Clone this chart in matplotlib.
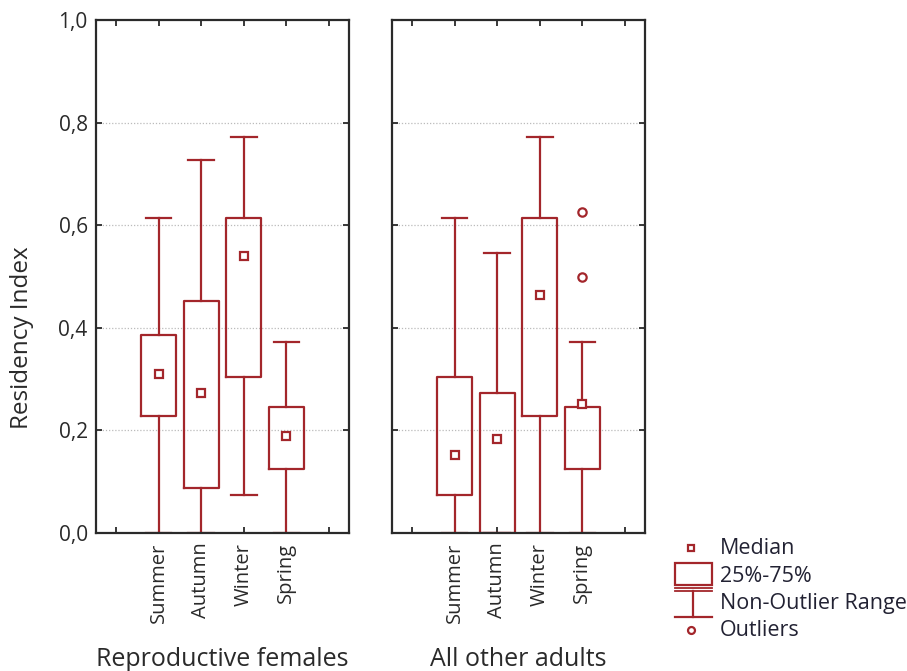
import numpy as np
import matplotlib
matplotlib.use("Agg")
import matplotlib.pyplot as plt
from matplotlib.patches import Rectangle

plt.rcParams["font.family"] = ["Open Sans", "DejaVu Sans"]

# Seasons and the two groups
seasons = ["Summer", "Autumn", "Winter", "Spring"]
groups = ["Reproductive females", "All other adults"]

# Reproductive females
rf_median = [0.309, 0.272, 0.539, 0.190]
rf_q1 = [0.229, 0.088, 0.305, 0.125]
rf_q3 = [0.385, 0.452, 0.615, 0.246]
rf_low = [0.0, 0.0, 0.075, 0.0]
rf_high = [0.615, 0.727, 0.771, 0.373]
rf_outliers = [[], [], [], []]

# All other adults
oa_median = [0.153, 0.183, 0.463, 0.251]
oa_q1 = [0.074, 0.0, 0.228, 0.124]
oa_q3 = [0.305, 0.272, 0.615, 0.246]
oa_low = [0.0, 0.0, 0.0, 0.0]
oa_high = [0.615, 0.546, 0.771, 0.373]
oa_outliers = [[], [], [], [0.626, 0.499]]

red = "#A3262B"
ink = "#2a2a2a"
positions = [2, 3, 4, 5]

fig = plt.figure(figsize=(9.07, 6.71), dpi=100)
ax1 = fig.add_axes([96 / 907, 1 - 533 / 671, 253 / 907, 513 / 671])
ax2 = fig.add_axes([392 / 907, 1 - 533 / 671, 253 / 907, 513 / 671])


def draw_panel(ax, med, q1, q3, lo, hi, out):
    stats = []
    for i in range(len(seasons)):
        stats.append({
            "med": med[i], "q1": q1[i], "q3": q3[i],
            "whislo": lo[i], "whishi": hi[i], "fliers": out[i],
        })
    ax.bxp(
        stats,
        positions=positions,
        widths=0.82,
        capwidths=0.6,
        boxprops=dict(color=red, linewidth=1.6),
        whiskerprops=dict(color=red, linewidth=1.6),
        capprops=dict(color=red, linewidth=1.6),
        medianprops=dict(visible=False),
        flierprops=dict(marker="o", markersize=6, markerfacecolor="white",
                        markeredgecolor=red, markeredgewidth=1.6),
        manage_ticks=False,
    )
    ax.plot(positions, med, "s", markersize=6, markerfacecolor="white",
            markeredgecolor=red, markeredgewidth=1.6, linestyle="none")

    ax.set_xlim(0.53, 6.47)
    ax.set_ylim(0, 1.0)
    ax.set_xticks([1, 2, 3, 4, 5, 6])
    ax.set_xticklabels([""] + seasons + [""], rotation=90, fontsize=14.5)
    ax.set_yticks([0, 0.2, 0.4, 0.6, 0.8, 1.0])
    ax.set_yticklabels(["0,0", "0,2", "0,4", "0,6", "0,8", "1,0"], fontsize=15)
    ax.tick_params(direction="in", top=True, right=True, length=4,
                   width=1.3, colors=ink)
    ax.tick_params(axis="x", pad=7)
    ax.tick_params(axis="y", pad=6)
    for y in [0.2, 0.4, 0.6, 0.8]:
        ax.axhline(y, color="#bbbbbb", linestyle=(0, (1, 1.5)),
                   linewidth=0.9, zorder=0)
    for s in ax.spines.values():
        s.set_linewidth(1.6)
        s.set_color(ink)


draw_panel(ax1, rf_median, rf_q1, rf_q3, rf_low, rf_high, rf_outliers)
draw_panel(ax2, oa_median, oa_q1, oa_q3, oa_low, oa_high, oa_outliers)
ax2.tick_params(axis="y", labelleft=False)

ax1.set_ylabel("Residency Index", fontsize=17.5, color=ink)
ax1.yaxis.set_label_coords(-0.245, 0.38)

fig.text(222 / 907, 1 - 659 / 671, groups[0], ha="center", va="center",
         fontsize=18, color=ink)
fig.text(518 / 907, 1 - 659 / 671, groups[1], ha="center", va="center",
         fontsize=18, color=ink)

# Legend drawn by hand in pixel coordinates
lg = fig.add_axes([660 / 907, 1 - 650 / 671, 247 / 907, 130 / 671])
lg.set_xlim(660, 907)
lg.set_ylim(650, 520)
lg.axis("off")
lg.plot([691], [548], "s", markersize=5, markerfacecolor="white",
        markeredgecolor=red, markeredgewidth=1.6)
lg.add_patch(Rectangle((675, 563), 37, 22, fill=False, edgecolor=red,
                       linewidth=1.6))
lg.plot([675, 712], [588, 588], color=red, linewidth=1.3)
lg.plot([675, 712], [591, 591], color=red, linewidth=1.3)
lg.plot([693, 693], [591, 617], color=red, linewidth=1.6)
lg.plot([675, 712], [617, 617], color=red, linewidth=1.6)
lg.plot([691], [630], "o", markersize=5, markerfacecolor="white",
        markeredgecolor=red, markeredgewidth=1.6)
legend_labels = ["Median", "25%-75%", "Non-Outlier Range", "Outliers"]
legend_y = [548, 576, 604, 631]
for label, y in zip(legend_labels, legend_y):
    lg.text(720, y, label, va="center", ha="left", fontsize=15.5,
            color="#222233")

fig.savefig("out.png", dpi=100)
